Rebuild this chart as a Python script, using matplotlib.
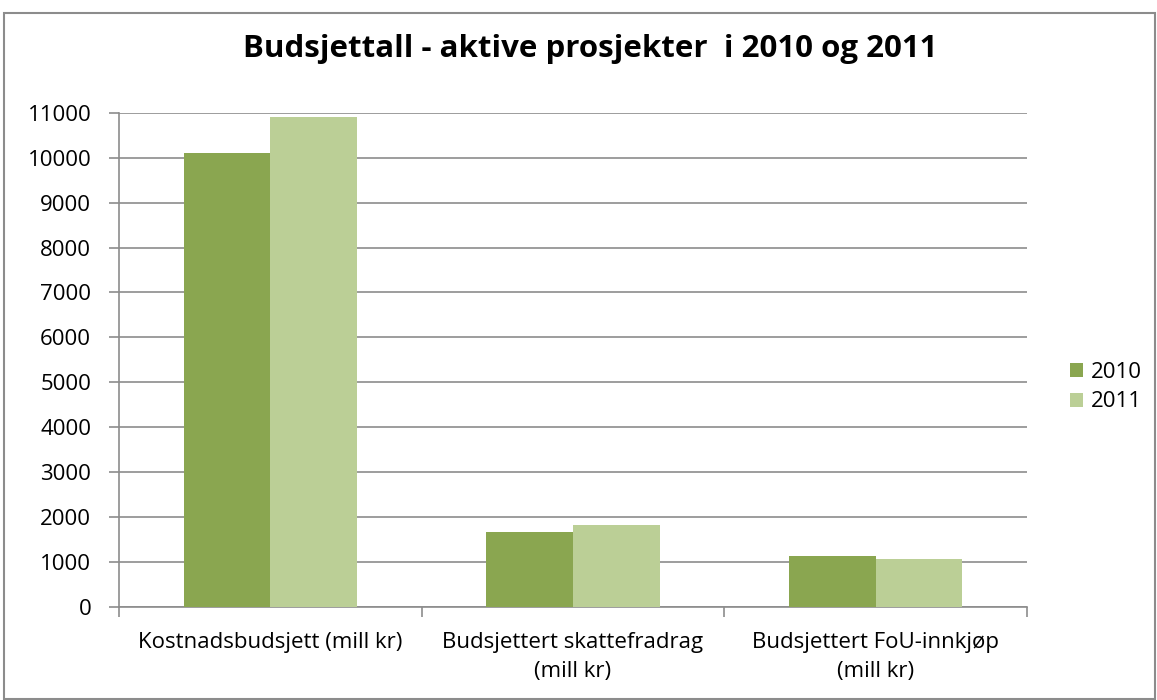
#!/usr/bin/env python3

import matplotlib.pyplot as plt
import numpy as np

categories = ["Kostnadsbudsjett (mill kr)", "Budsjettert skattefradrag\n(mill kr)", "Budsjettert FoU-innkjøp\n(mill kr)"]
series_names = ["2010", "2011"]
values_2010 = [10100, 1680, 1135]
values_2011 = [10900, 1830, 1070]
y_ticks = list(range(0, 11001, 1000))

colors = ["#8AA650", "#BBCF96"]
grid_color = "#8C8C8C"

plt.rcParams["font.family"] = ["Open Sans", "DejaVu Sans"]

fig = plt.figure(figsize=(11.57, 7.0), dpi=100)
ax = fig.add_axes([119 / 1157, 1 - 607 / 700, (1027 - 119) / 1157, (607 - 112.7) / 700])

x = np.arange(len(categories))
width = 0.286
ax.bar(x - width / 2, values_2010, width=width, color=colors[0], label=series_names[0], zorder=3)
ax.bar(x + width / 2, values_2011, width=width, color=colors[1], label=series_names[1], zorder=3)

ax.set_xlim(-0.5, len(categories) - 0.5)
ax.set_ylim(0, 11000)
ax.set_yticks(y_ticks)
ax.set_yticklabels([str(v) for v in y_ticks], fontsize=16)
ax.yaxis.grid(True, color=grid_color, linewidth=1.2, zorder=0)

# category labels sit between the boundary ticks
ax.set_xticks(np.arange(-0.5, len(categories), 1.0))
ax.set_xticklabels([])
ax.set_xticks(x, minor=True)
ax.set_xticklabels(categories, minor=True, fontsize=16, linespacing=1.5)
ax.tick_params(axis="x", which="minor", length=0, pad=18)
ax.tick_params(axis="x", which="major", length=7, color=grid_color, width=1.2)
ax.tick_params(axis="y", length=7, color=grid_color, width=1.2, pad=13)

for side in ["top", "right"]:
    ax.spines[side].set_visible(False)
for side in ["left", "bottom"]:
    ax.spines[side].set_color(grid_color)
    ax.spines[side].set_linewidth(1.2)

ax.legend(loc="center left", bbox_to_anchor=(1.025, 0.445), frameon=False, fontsize=16,
          handlelength=0.6, handleheight=0.6, handletextpad=0.35, labelspacing=0.4)

fig.text(0.51, 0.93, "Budsjettall - aktive prosjekter  i 2010 og 2011", ha="center", va="center",
         fontsize=22.5, fontweight="bold")

border = plt.Rectangle((4 / 1157, 0.002), 1 - 6 / 1157, 1 - 13 / 700 - 0.002, transform=fig.transFigure,
                       fill=False, edgecolor="#8C8C8C", linewidth=1.5)
fig.patches.append(border)

fig.savefig("out.png", dpi=100)
plt.close(fig)
